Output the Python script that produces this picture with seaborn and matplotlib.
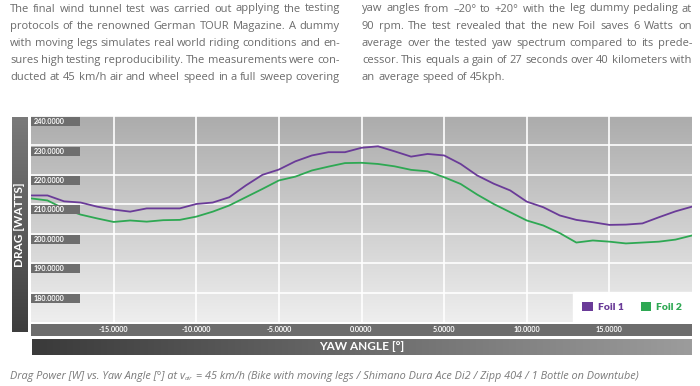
import numpy as np
import pandas as pd
import matplotlib
matplotlib.use("Agg")
import matplotlib.pyplot as plt
import seaborn as sns
from matplotlib.colors import LinearSegmentedColormap
from matplotlib.patches import Patch, Rectangle

# values
yaw = list(range(-20, 21))
foil1 = [213.0, 213.0, 211.0, 210.6, 209.2, 208.2, 207.5, 208.6, 208.6, 208.6,
         210.1, 210.6, 212.4, 216.4, 220.0, 221.8, 224.6, 226.6, 227.7, 227.7,
         229.2, 229.7, 228.0, 226.2, 227.1, 226.6, 223.7, 219.8, 217.0, 214.7,
         210.9, 209.0, 206.2, 204.7, 203.9, 203.0, 203.1, 203.5, 205.6, 207.6,
         209.2]
foil2 = [212.0, 211.3, 208.5, 206.5, 205.2, 204.0, 204.5, 204.1, 204.6, 204.7,
         205.8, 207.5, 209.6, 212.4, 215.2, 218.1, 219.4, 221.5, 222.8, 224.0,
         224.1, 223.7, 222.9, 221.7, 221.2, 219.2, 216.9, 213.3, 210.1, 207.3,
         204.5, 202.8, 200.2, 197.0, 197.7, 197.3, 196.7, 197.0, 197.3, 198.0,
         199.4]
series_names = ["Foil 1", "Foil 2"]
palette = {"Foil 1": "#6a3b98", "Foil 2": "#2ea853"}
x_ticks = [-15, -10, -5, 0, 5, 10, 15]
y_ticks = [180, 190, 200, 210, 220, 230, 240]

left_text = [
    "The final wind tunnel test was carried out applying the testing",
    "protocols of the renowned German TOUR Magazine. A dummy",
    "with moving legs simulates real world riding conditions and en-",
    "sures high testing reproducibility. The measurements were con-",
    "ducted at 45 km/h air and wheel speed in a full sweep covering",
]
right_text = [
    "yaw angles from \u201320\u00b0 to +20\u00b0 with the leg dummy pedaling at",
    "90 rpm. The test revealed that the new Foil saves 6 Watts on",
    "average over the tested yaw spectrum compared to its prede-",
    "cessor. This equals a gain of 27 seconds over 40 kilometers with",
    "an average speed of 45kph.",
]
caption_a = "Drag Power [W] vs. Yaw Angle [\u00b0] at v"
caption_sub = "air"
caption_b = " = 45 km/h (Bike with moving legs / Shimano Dura Ace Di2 / Zipp 404 / 1 Bottle on Downtube)"

df = pd.DataFrame({
    "yaw": yaw * 2,
    "drag": foil1 + foil2,
    "foil": [series_names[0]] * len(yaw) + [series_names[1]] * len(yaw),
})

sns.set_theme(style="white")
plt.rcParams["font.family"] = ["Lato", "DejaVu Sans"]
body_font = ["Open Sans", "DejaVu Sans"]

W, H = 700, 386
fig = plt.figure(figsize=(W / 100, H / 100), dpi=100)
fig.patch.set_facecolor("white")
renderer = fig.canvas.get_renderer()


def px_axes(x0, y0, x1, y1):
    # box given in pixels, origin top-left
    a = fig.add_axes([x0 / W, 1 - y1 / H, (x1 - x0) / W, (y1 - y0) / H])
    a.set_axis_off()
    return a


def gradient(a, c0, c1, vertical=True):
    cmap = LinearSegmentedColormap.from_list("g", [c0, c1])
    g = np.linspace(0, 1, 256)
    g = g.reshape(-1, 1) if vertical else g.reshape(1, -1)
    a.imshow(g, cmap=cmap, aspect="auto", extent=[0, 1, 0, 1],
             transform=a.transAxes, zorder=0)


# main plot
ax = px_axes(31, 116, 692, 322)
ax.set_axis_on()
for s in ax.spines.values():
    s.set_visible(False)
gradient(ax, "#acacac", "#eeeeee")
sns.lineplot(data=df, x="yaw", y="drag", hue="foil", palette=palette,
             linewidth=1.3, legend=False, ax=ax, zorder=3)
ax.set_xlim(-20, 20)
ax.set_ylim(170, 240)
ax.set_xticks(x_ticks)
ax.set_yticks(y_ticks)
ax.tick_params(length=0, labelbottom=False, labelleft=False)
ax.set_xlabel("")
ax.set_ylabel("")
ax.grid(True, color="white", linewidth=1.2)
ax.set_axisbelow(True)

# y tick label boxes inside the plot
xpu = 661 / 40
ypu = 206 / 70
for v in y_ticks:
    top = v - 1.2 / ypu
    ax.add_patch(Rectangle((-20, top - 9 / ypu), 49 / xpu, 9 / ypu,
                           facecolor="#6e6e6e", edgecolor="none", zorder=4))
    ax.text(-20 + 3 / xpu, top - 4.5 / ypu, f"{v:.4f}", color="white",
            fontsize=5.2, fontweight="bold", va="center", ha="left", zorder=5)

# legend
handles = [Patch(facecolor=palette[n], edgecolor="none") for n in series_names]
leg = ax.legend(handles, series_names, ncol=2, loc="lower right",
                bbox_to_anchor=(1, 0), borderaxespad=0, frameon=True,
                fancybox=False, framealpha=1, edgecolor="white",
                facecolor="white", handlelength=1.0, handleheight=1.0,
                handletextpad=0.5, columnspacing=1.6, borderpad=0.95,
                prop={"size": 7.5, "weight": "heavy"})
leg.set_zorder(6)
for t, n in zip(leg.get_texts(), series_names):
    t.set_color(palette[n])

# x tick bar
axt = px_axes(31, 324, 692, 336)
axt.add_patch(Rectangle((0, 0), 1, 1, transform=axt.transAxes,
                        facecolor="#6d6d6d", edgecolor="none"))
axt.set_xlim(-20, 20)
axt.set_ylim(0, 1)
for v in x_ticks:
    axt.text(v, 0.5, f"{v:.4f}", color="white", fontsize=5.2,
             fontweight="bold", ha="center", va="center")

# x label bar
axx = px_axes(32, 339, 692, 355)
gradient(axx, "#3a3a3a", "#9c9c9c", vertical=False)
axx.text(0.5, 0.5, "YAW ANGLE [\u00b0]", transform=axx.transAxes,
         color="white", fontsize=8.5, fontweight="bold", ha="center",
         va="center")

# y label bar
axy = px_axes(12, 117, 28, 332)
gradient(axy, "#7a7a7a", "#3e3e3e")
axy.text(0.5, 0.5, "DRAG [WATTS]", transform=axy.transAxes, rotation=90,
         color="white", fontsize=8.5, fontweight="bold", ha="center",
         va="center")


def word_widths(words, size):
    out = []
    for w in words:
        t = fig.text(0, 0, w, fontsize=size, family=body_font)
        out.append(t.get_window_extent(renderer).width)
        t.remove()
    return out


def fit_size(blocks, width, min_gap, start=9.5):
    # largest size where every justified line still has min_gap between words
    size = start
    while size > 6:
        ok = True
        for lines, last_left in blocks:
            for i, line in enumerate(lines):
                if last_left and i == len(lines) - 1:
                    continue
                words = line.split(" ")
                need = sum(word_widths(words, size)) + min_gap * (len(words) - 1)
                if need > width:
                    ok = False
                    break
            if not ok:
                break
        if ok:
            return size
        size -= 0.05
    return size


def justify(lines, x0, x1, y0, dy, size, last_left):
    for i, line in enumerate(lines):
        words = line.split(" ")
        y = 1 - (y0 + i * dy) / H
        texts = [fig.text(0, y, w, fontsize=size, color="#6b6b6b",
                          family=body_font, va="center", ha="left")
                 for w in words]
        widths = [t.get_window_extent(renderer).width for t in texts]
        if last_left and i == len(lines) - 1:
            gap = 0.26 * size * 100 / 72
        else:
            gap = (x1 - x0 - sum(widths)) / (len(words) - 1)
        x = x0
        for t, wd in zip(texts, widths):
            t.set_x(x / W)
            x += wd + gap


body_size = fit_size([(left_text, False), (right_text, True)], 330, 2.5)
justify(left_text, 10, 340, 9, 17.2, body_size, False)
justify(right_text, 362, 692, 9, 17.2, body_size, True)

# caption with subscript
cy = 1 - 376 / H
cx = 10
for txt, size, dy in [(caption_a, 7.8, 0), (caption_sub, 4.5, -3), (caption_b, 7.8, 0)]:
    t = fig.text(cx / W, cy + dy / H, txt, fontsize=size, style="italic",
                 family=body_font, color="#7a7a7a", va="center", ha="left")
    cx += t.get_window_extent(renderer).width

fig.savefig("out.png", dpi=100, facecolor="white")
